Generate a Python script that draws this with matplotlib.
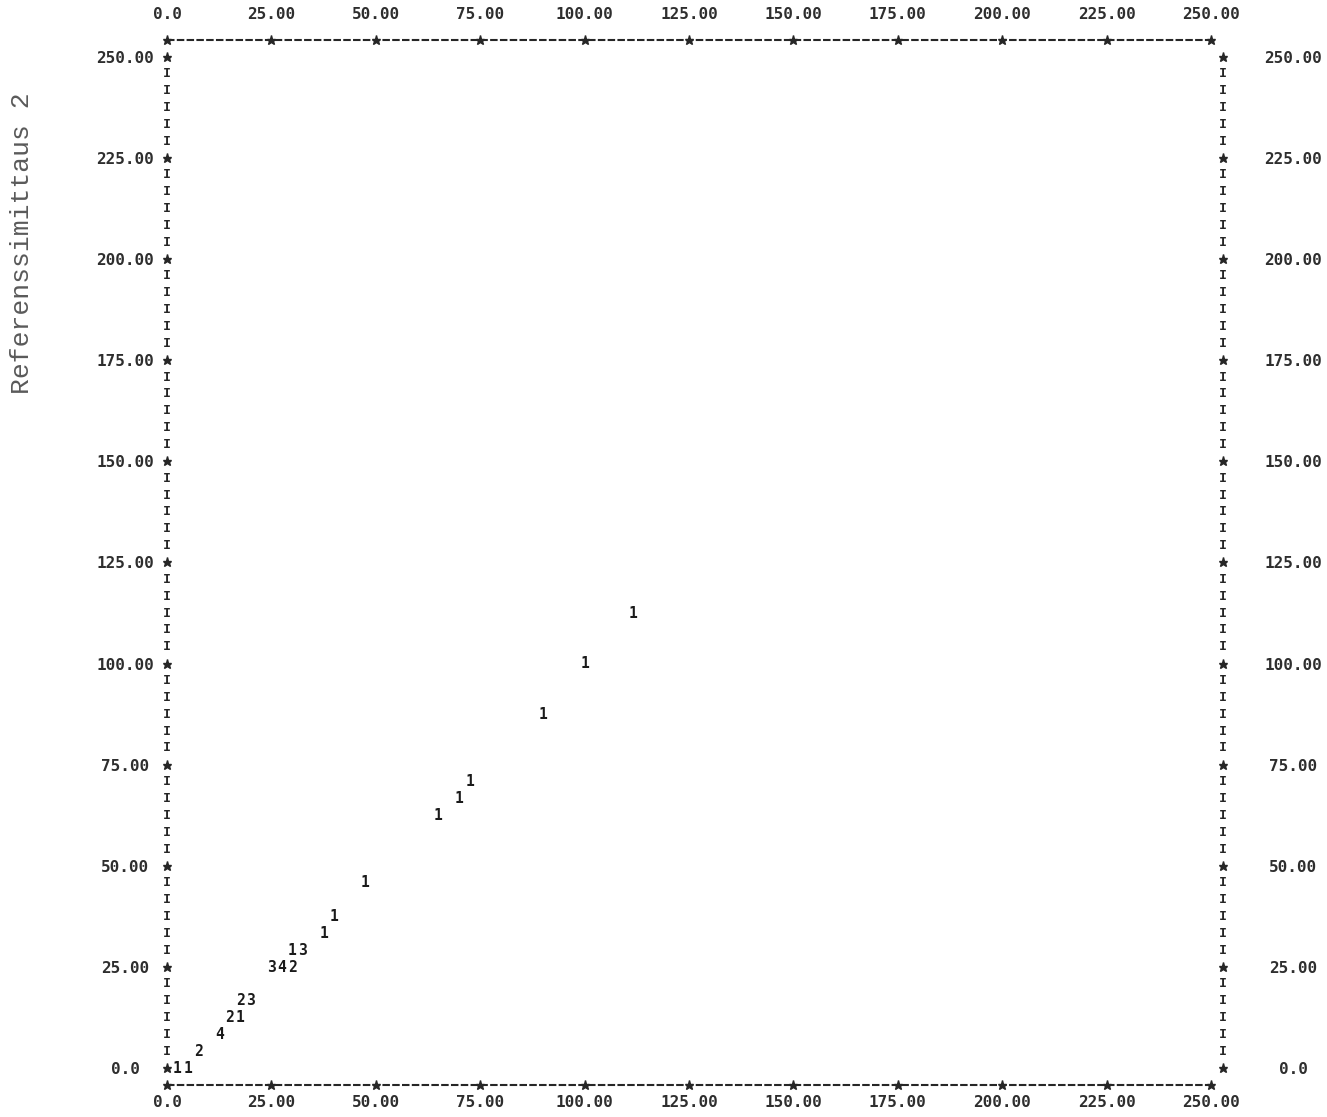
import matplotlib
matplotlib.use("Agg")
import matplotlib.pyplot as plt
import numpy as np

# ---- data ----
x_vals = [2.5, 5.0, 7.5, 12.5, 15.0, 17.5, 17.5, 20.0, 25.0, 27.5, 30.0, 30.0, 32.5,
          37.5, 40.0, 47.5, 65.0, 70.0, 72.5, 90.0, 100.0, 111.5]
y_vals = [0.0, 0.0, 4.17, 8.33, 12.5, 12.5, 16.67, 16.67, 25.0, 25.0, 25.0, 29.17, 29.17,
          33.33, 37.5, 45.83, 62.5, 66.67, 70.83, 87.5, 100.0, 112.5]
counts = ["1", "1", "2", "4", "2", "1", "2", "3", "3", "4", "2", "1", "3",
          "1", "1", "1", "1", "1", "1", "1", "1", "1"]

tick_vals = [0, 25, 50, 75, 100, 125, 150, 175, 200, 225, 250]
tick_labels = ["0.0", "25.00", "50.00", "75.00", "100.00", "125.00", "150.00",
               "175.00", "200.00", "225.00", "250.00"]
y_title = "Referenssimittaus 2"

# ---- layout ----
W, H = 1327, 1117
fig = plt.figure(figsize=(W / 100, H / 100), dpi=100)
fig.patch.set_facecolor("white")

ROW = 250 / 60.0      # printer line height in data units
left_px, right_px, top_px, bot_px = 167, 1211, 40, 1085
ax = fig.add_axes([left_px / W, 1 - bot_px / H, (right_px - left_px) / W, (bot_px - top_px) / H])
ax.set_xlim(0, 250)
ax.set_ylim(-ROW, 250 + ROW)
for s in ax.spines.values():
    s.set_visible(False)

ink = "#262626"
lab_col = "#2e2e2e"
mono = "DejaVu Sans Mono"
LS = 11.5

# borders (top / bottom dashed lines with asterisks at ticks)
for yb in (-ROW, 250 + ROW):
    ax.plot([0, 250], [yb, yb], color=ink, lw=1.5, ls=(0, (3.6, 1.1)),
            clip_on=False, zorder=2)
    ax.plot(tick_vals, [yb] * len(tick_vals), ls="none", marker="*", ms=6.5,
            color=ink, clip_on=False, zorder=3)

# side columns of 'I' with '*' at tick rows
rows = np.arange(0, 61)
for xc in (0.0, 252.8):
    for k in rows:
        yy = k * ROW
        if k % 6 == 0:
            ax.plot([xc], [yy], ls="none", marker="*", ms=6.5, color=ink, clip_on=False)
        else:
            ax.text(xc, yy, "I", family=mono, weight="bold", fontsize=9.5,
                    color=ink, ha="center", va="center", clip_on=False)

# data characters
for xv, yv, c in zip(x_vals, y_vals, counts):
    ax.text(xv, yv, c, family=mono, weight="bold", fontsize=10.5, color="#1a1a1a",
            ha="center", va="center", clip_on=False, zorder=4)

# bottom + left tick labels
ax.set_xticks(tick_vals)
ax.set_xticklabels(tick_labels)
ax.set_yticks(tick_vals)
ax.set_yticklabels(tick_labels)
ax.tick_params(axis="both", length=0, labelsize=LS, labelcolor=lab_col)
ax.tick_params(axis="x", pad=7)
ax.tick_params(axis="y", pad=30, labelleft=True, labelright=False)
for lab in ax.get_xticklabels() + ax.get_yticklabels():
    lab.set_family(mono)
    lab.set_weight("bold")
for lab in ax.get_yticklabels():
    lab.set_horizontalalignment("center")

# right labels
axr = ax.twinx()
axr.set_ylim(ax.get_ylim())
axr.set_yticks(tick_vals)
axr.set_yticklabels(tick_labels)
axr.tick_params(axis="y", length=0, labelsize=LS, labelcolor=lab_col, pad=59)
for lab in axr.get_yticklabels():
    lab.set_family(mono)
    lab.set_weight("bold")
    lab.set_horizontalalignment("center")
for s in axr.spines.values():
    s.set_visible(False)

# top labels
axt = ax.twiny()
axt.set_xlim(ax.get_xlim())
axt.set_xticks(tick_vals)
axt.set_xticklabels(tick_labels)
axt.tick_params(axis="x", length=0, labelsize=LS, labelcolor=lab_col, pad=13)
for lab in axt.get_xticklabels():
    lab.set_family(mono)
    lab.set_weight("bold")
for s in axt.spines.values():
    s.set_visible(False)
axt.set_ylim(ax.get_ylim())
axt.tick_params(axis="y", left=False, right=False, labelleft=False, labelright=False)

fig.text(22 / W, 1 - 243 / H, y_title, rotation=90, family="Liberation Mono",
         fontsize=19, color="#5a5a5a", ha="center", va="center")

fig.savefig("out.png", dpi=100, facecolor="white")
